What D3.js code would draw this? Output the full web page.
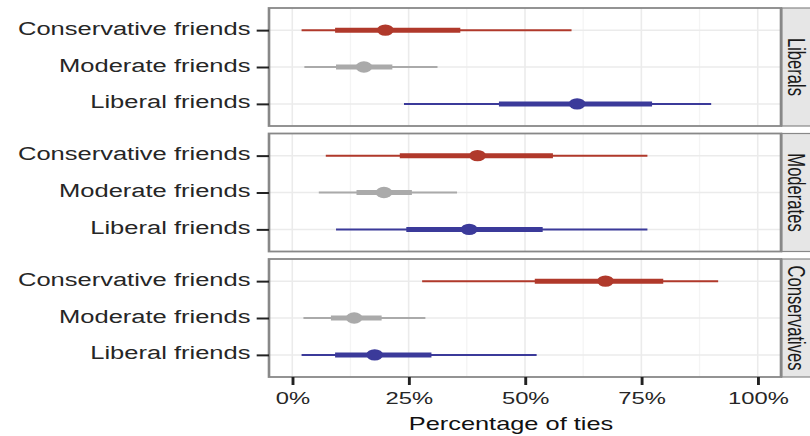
<!DOCTYPE html>
<html>
<head>
<meta charset="utf-8">
<script src="https://cdn.jsdelivr.net/npm/d3@7"></script>
<style>
  body { margin: 0; background: #fff; }
  svg { display: block; }
</style>
</head>
<body>
<div id="chart"></div>
<script>
// facets (rows) and categories inside each facet
const panels = ["Liberals", "Moderates", "Conservatives"];
const categories = ["Conservative friends", "Moderate friends", "Liberal friends"];
const catColors = ["#b0392b", "#aaaaaa", "#3b3a9a"];

// values per panel, in category order
const estimate = [[0.200, 0.154, 0.612], [0.398, 0.197, 0.380], [0.673, 0.133, 0.177]];
const innerLo  = [[0.092, 0.094, 0.444], [0.231, 0.138, 0.245], [0.521, 0.083, 0.092]];
const innerHi  = [[0.361, 0.215, 0.773], [0.560, 0.257, 0.538], [0.797, 0.192, 0.299]];
const outerLo  = [[0.020, 0.026, 0.240], [0.072, 0.057, 0.094], [0.279, 0.024, 0.020]];
const outerHi  = [[0.600, 0.312, 0.900], [0.763, 0.354, 0.763], [0.915, 0.286, 0.525]];

const xTicks = [0, 0.25, 0.5, 0.75, 1];
const xMinor = [0.125, 0.375, 0.625, 0.875];

// the reference is stretched horizontally, so draw narrow and stretch
const sx = 1.45;
const W = 810 / sx, H = 436;

const left = 269 / sx, right = 781 / sx;
const panelTop = 8, panelH = 118, gap = 7.5;

const svg = d3.select("#chart").append("svg")
  .attr("width", 810).attr("height", 436)
  .attr("viewBox", `0 0 ${W} ${H}`)
  .attr("preserveAspectRatio", "none")
  .style("font-family", "'Liberation Sans', Arial, sans-serif");

const x = d3.scaleLinear().domain([-0.05, 1.05]).range([left, right]);
const y = d3.scalePoint().domain(categories).range([0, panelH]).padding(0.6);

panels.forEach((p, pi) => {
  const top = panelTop + pi * (panelH + gap);
  const g = svg.append("g").attr("transform", `translate(0,${top})`);

  g.append("rect")
    .attr("x", left).attr("y", 0)
    .attr("width", right - left).attr("height", panelH)
    .attr("fill", "#fff");

  // grid
  g.selectAll(".minor").data(xMinor).enter().append("line")
    .attr("x1", d => x(d)).attr("x2", d => x(d))
    .attr("y1", 0).attr("y2", panelH)
    .attr("stroke", "#f4f4f4").attr("stroke-width", 0.9);
  g.selectAll(".major").data(xTicks).enter().append("line")
    .attr("x1", d => x(d)).attr("x2", d => x(d))
    .attr("y1", 0).attr("y2", panelH)
    .attr("stroke", "#ebebeb").attr("stroke-width", 1.1);
  g.selectAll(".hgrid").data(categories).enter().append("line")
    .attr("x1", left).attr("x2", right)
    .attr("y1", d => y(d)).attr("y2", d => y(d))
    .attr("stroke", "#ebebeb").attr("stroke-width", 1.5);

  // pointranges
  categories.forEach((c, ci) => {
    const col = catColors[ci], yy = y(c);
    g.append("line")
      .attr("x1", x(outerLo[pi][ci])).attr("x2", x(outerHi[pi][ci]))
      .attr("y1", yy).attr("y2", yy)
      .attr("stroke", col).attr("stroke-width", 2);
    g.append("line")
      .attr("x1", x(innerLo[pi][ci])).attr("x2", x(innerHi[pi][ci]))
      .attr("y1", yy).attr("y2", yy)
      .attr("stroke", col).attr("stroke-width", 5);
    g.append("circle")
      .attr("cx", x(estimate[pi][ci])).attr("cy", yy)
      .attr("r", 5.7).attr("fill", col);
  });

  // border
  g.append("rect")
    .attr("x", left).attr("y", 0)
    .attr("width", right - left).attr("height", panelH)
    .attr("fill", "none").attr("stroke", "#888").attr("stroke-width", 1.8);

  // strip
  g.append("rect")
    .attr("x", right + 0.5).attr("y", 0)
    .attr("width", 30).attr("height", panelH)
    .attr("fill", "#e6e6e6").attr("stroke", "#888").attr("stroke-width", 1.2);
  g.append("text")
    .attr("transform", `translate(${797 / sx},${panelH / 2}) rotate(90)`)
    .attr("text-anchor", "middle")
    .attr("dominant-baseline", "central")
    .attr("font-size", 16.6)
    .attr("fill", "#1a1a1a")
    .text(p);

  // y axis
  const ya = g.append("g")
    .attr("transform", `translate(${left},0)`)
    .call(d3.axisLeft(y).tickSize(8.5).tickPadding(4.3));
  ya.select(".domain").remove();
  ya.selectAll(".tick line").attr("stroke", "#222").attr("stroke-width", 2);
  ya.selectAll(".tick text")
    .attr("font-size", 17.6).attr("fill", "#262626")
    .attr("dy", "0.23em");

  // x axis on the last panel
  if (pi === panels.length - 1) {
    const xa = g.append("g")
      .attr("transform", `translate(0,${panelH})`)
      .call(d3.axisBottom(x).tickValues(xTicks)
        .tickFormat(d3.format(".0%")).tickSize(8).tickPadding(7));
    xa.select(".domain").remove();
    xa.selectAll(".tick line").attr("stroke", "#222").attr("stroke-width", 2);
    xa.selectAll(".tick text")
      .attr("font-size", 16.4).attr("fill", "#262626");
  }
});

// axis title
svg.append("text")
  .attr("x", 511 / sx).attr("y", 430)
  .attr("text-anchor", "middle")
  .attr("font-size", 17.5)
  .attr("fill", "#111")
  .text("Percentage of ties");
</script>
</body>
</html>
